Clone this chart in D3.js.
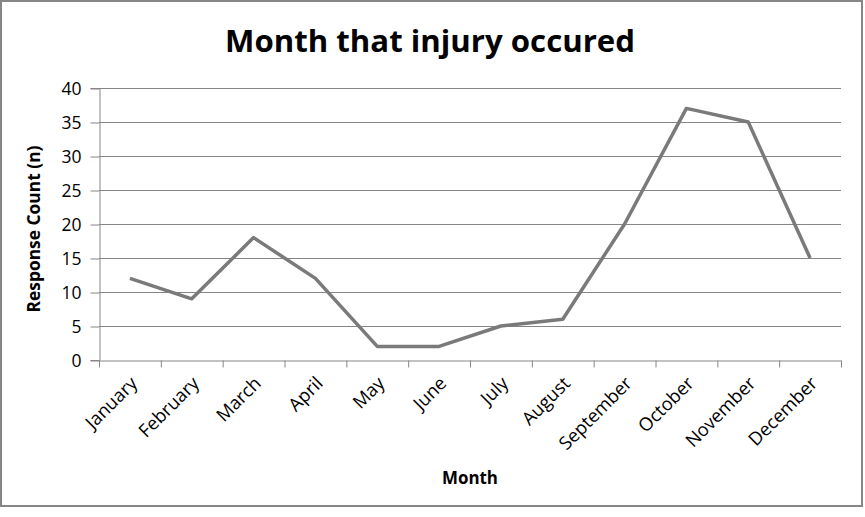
<!DOCTYPE html>
<html><head><meta charset="utf-8">
<script src="https://cdn.jsdelivr.net/npm/d3@7"></script>
<style>body{margin:0;background:#fff}svg{display:block}text{font-family:"Open Sans",sans-serif}</style>
</head><body>
<svg id="c" width="865" height="517"></svg>
<script>
const months = ["January","February","March","April","May","June","July","August","September","October","November","December"];
const counts = [12, 9, 18, 12, 2, 2, 5, 6, 20, 37, 35, 15];
const yTicks = [0,5,10,15,20,25,30,35,40];
const title = "Month that injury occured";
const xTitle = "Month";
const yTitle = "Response Count (n)";

const svg = d3.select("#c");
svg.append("rect").attr("x",1).attr("y",1).attr("width",861).attr("height",505)
  .attr("fill","#fff").attr("stroke","#868686").attr("stroke-width",2);

const L=99, R=841, T=88, B=360;
const x = d3.scaleBand().domain(months).range([L,R]);
const y = d3.scaleLinear().domain([0,40]).range([B,T]);

// gridlines
svg.append("g").selectAll("line").data(yTicks.filter(d=>d>0)).join("line")
  .attr("x1",L).attr("x2",R).attr("y1",d=>y(d)+0.5).attr("y2",d=>y(d)+0.5)
  .attr("stroke","#868686").attr("stroke-width",1);

// y axis
const ya = svg.append("g").attr("transform",`translate(${L+0.5},0)`)
  .call(d3.axisLeft(y).tickValues(yTicks).tickSize(9).tickPadding(9));
ya.select(".domain").attr("stroke","#868686");
ya.selectAll(".tick line").attr("stroke","#868686").attr("transform","translate(0,0.5)");
ya.selectAll("text").attr("font-size","17.5px").attr("fill","#000").attr("font-family","Open Sans").attr("dy","0.36em");

// x axis
const xa = svg.append("g").attr("transform",`translate(0,${B+0.5})`)
  .call(d3.axisBottom(x).tickSize(0).tickFormat(""));
xa.select(".domain").attr("stroke","#868686");
const edges = months.map(m=>x(m)).concat([R]);
xa.selectAll(".edge").data(edges).join("line").attr("class","edge")
  .attr("x1",d=>d+0.5).attr("x2",d=>d+0.5).attr("y1",0).attr("y2",7).attr("stroke","#868686");
svg.append("g").selectAll("text").data(months).join("text")
  .attr("transform",d=>`translate(${x(d)+x.bandwidth()/2+4},${B+20}) rotate(-45)`)
  .attr("text-anchor","end").attr("dy","0.35em").attr("font-size","18.3px").attr("fill","#000")
  .text(d=>d);

// line
svg.append("path").datum(counts)
  .attr("d", d3.line().x((d,i)=>x(months[i])+x.bandwidth()/2).y(d=>y(d)))
  .attr("fill","none").attr("stroke","#7a7a7a").attr("stroke-width",3.5)
  .attr("stroke-linejoin","round").attr("stroke-linecap","butt");

// titles
const t = svg.append("text").attr("x",430).attr("y",52).attr("text-anchor","middle")
  .attr("font-weight","bold").attr("font-size","32px").attr("fill","#000").text(title);
const tw = t.node().getComputedTextLength();
t.attr("font-size",(32*410/tw)+"px");

const xt = svg.append("text").attr("x",470).attr("y",484).attr("text-anchor","middle")
  .attr("font-weight","bold").attr("font-size","16px").attr("fill","#000").text(xTitle);
const xw = xt.node().getComputedTextLength();
xt.attr("font-size",(16*56/xw)+"px");

const yt = svg.append("text").attr("transform","translate(40,229) rotate(-90)").attr("text-anchor","middle")
  .attr("font-weight","bold").attr("font-size","16px").attr("fill","#000").text(yTitle);
const yw = yt.node().getComputedTextLength();
yt.attr("font-size",(16*167/yw)+"px");
</script>
</body></html>
